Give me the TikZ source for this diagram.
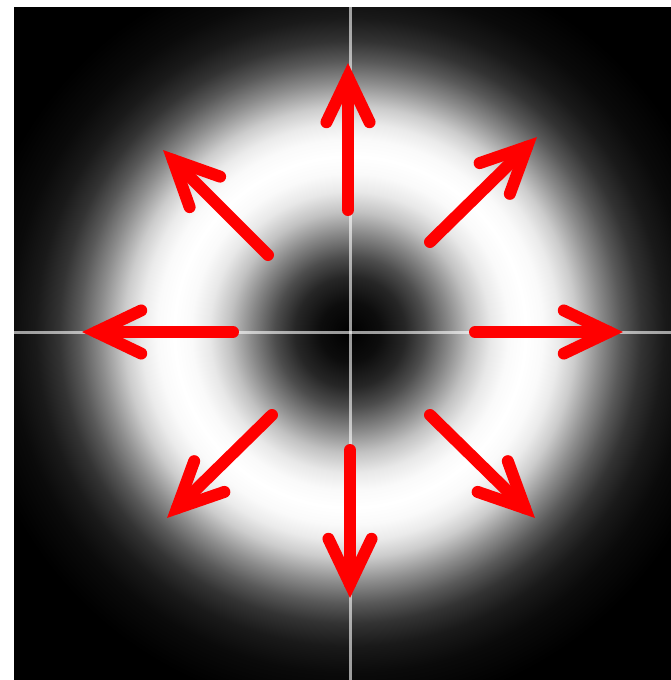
\documentclass[tikz,border=0pt]{standalone}
\usetikzlibrary{calc}
\pgfdeclareradialshading{donutbeam}{\pgfpoint{0bp}{0bp}}{%
color(0bp)=(black);
color(30bp)=(black!95);
color(55bp)=(black!85);
color(75bp)=(black!70);
color(98bp)=(black!47);
color(120bp)=(black!24);
color(140bp)=(black!9);
color(158bp)=(black!2);
color(175bp)=(white);
color(192bp)=(black!2);
color(208bp)=(black!8);
color(225bp)=(black!20);
color(249bp)=(black!45);
color(270bp)=(black!65);
color(290bp)=(black!80);
color(313bp)=(black!90);
color(340bp)=(black!96);
color(380bp)=(black);
color(480bp)=(black)}
\tikzset{
  crossline/.style={draw=white, draw opacity=0.6, line width=3},
  redshaft/.style={draw=red, line width=12, line cap=round},
  redhead/.style={draw=red, line width=12, line cap=round, line join=miter}
}
\begin{document}
\begin{tikzpicture}[x=1pt,y=-1pt]
\useasboundingbox (0,0) rectangle (671,680);
\fill[white] (0,0) rectangle (671,680);
\fill[black] (14,7) rectangle (671,680);
\begin{scope}
\clip (14,7) rectangle (671,680);
\node[inner sep=0pt, outer sep=0pt] (beam) at (350,332) {\pgfuseshading{donutbeam}};
\end{scope}
% crosshair
\coordinate (vtop) at (350,7);
\coordinate (vbot) at (350,680);
\coordinate (hleft) at (14,332);
\coordinate (hright) at (671,332);
\draw[crossline] (vtop) -- (vbot);
\draw[crossline] (hleft) -- (hright);
% arrows: tail -> visible tip
\foreach \i/\sx/\sy/\tx/\ty in {
  1/348/210/348/63,
  2/475/332/623/332,
  3/233/332/82/332,
  4/350/450/350/598,
  5/268/255/163/150,
  6/430/242/537/137,
  7/272/415/167/518,
  8/430/415/535/518}{
  \coordinate (s\i) at (\sx,\sy);
  \coordinate (t\i) at (\tx,\ty);
  \coordinate (v\i) at ($(t\i)!14pt!(s\i)$);
  \coordinate (a\i) at ($(t\i)!63pt!20:(s\i)$);
  \coordinate (b\i) at ($(t\i)!63pt!-20:(s\i)$);
  \draw[redshaft] (s\i) -- (v\i);
  \draw[redhead] (a\i) -- (v\i) -- (b\i);
}
\end{tikzpicture}
\end{document}
